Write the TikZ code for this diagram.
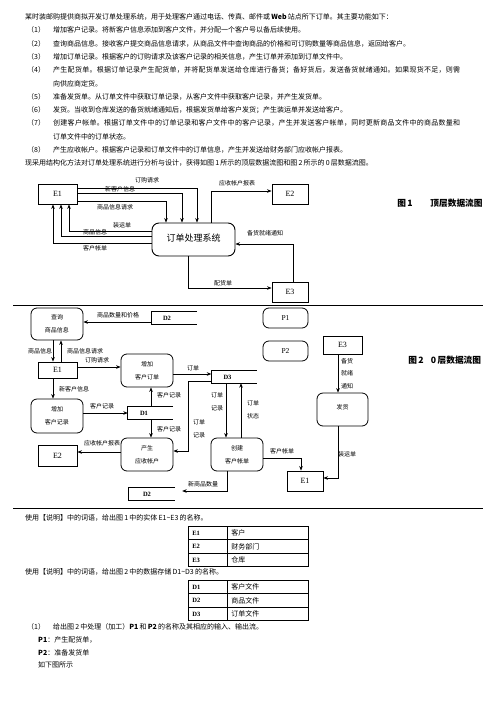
\documentclass[tikz,border=0pt]{standalone}
\usepackage{fontspec}
\IfFontExistsTF{FandolSong-Regular.otf}{%
  \setmainfont{FandolSong-Regular.otf}[BoldFont=FandolSong-Bold.otf]%
}{%
  \setmainfont{Noto Sans CJK SC}%
}
\newfontfamily\lat{Liberation Serif}
\usetikzlibrary{arrows.meta,calc}
\newcommand\openbox[1]{\draw[storeline] (#1.north east) -- (#1.north west) -- (#1.south west) -- (#1.south east);}
\tikzset{
  ent/.style={draw, line width=0.9pt, inner sep=0pt, font=\lat\fontsize{8}{9}\selectfont},
  proc/.style={draw, rounded corners=6pt, line width=0.8pt, inner sep=0pt, align=center, font=\fontsize{6}{13}\selectfont},
  store/.style={inner sep=0pt, minimum width=45pt, minimum height=12pt, font=\lat\bfseries\fontsize{6.5}{7}\selectfont},
  storeline/.style={line width=0.8pt},
  arr/.style={line width=0.7pt, -{Stealth[length=4.5pt,width=3.6pt]}},
  lbl/.style={inner sep=0pt, font=\fontsize{6}{13}\selectfont, align=center},
  lbl3/.style={inner sep=0pt, font=\fontsize{6}{12.5}\selectfont, align=center},
  txt/.style={inner sep=0pt, anchor=west, font=\fontsize{7}{8}\selectfont},
  wide/.style={font=\fontsize{7}{8}\selectfont\addfontfeatures{LetterSpace=3.9}},
  ttl/.style={inner sep=0pt, font=\bfseries\fontsize{8.7}{9}\selectfont},
  sep/.style={line width=0.9pt},
  cellL/.style={draw, line width=0.8pt, anchor=north west, inner xsep=4pt, inner ysep=0pt, text width=31pt, align=left, minimum height=13.4pt, font=\lat\bfseries\fontsize{6.5}{7}\selectfont},
  cellR/.style={draw, line width=0.8pt, anchor=north west, inner xsep=4pt, inner ysep=0pt, text width=73pt, align=left, minimum height=13.4pt, font=\fontsize{7}{8}\selectfont}
}
\begin{document}
\begin{tikzpicture}[x=1pt,y=-1pt]
\useasboundingbox (0,0) rectangle (496,702);
% ---------------- description text ----------------
\node[txt] (t0) at (25,17) {某时装邮购提供商拟开发订单处理系统，用于处理客户通过电话、传真、邮件或\,\textbf{Web}\,站点所下订单。其主要功能如下：};
\node[txt] (n1) at (27,30.3) {（1）};
\node[txt] (t1) at (53,30.3) {增加客户记录。将新客户信息添加到客户文件，并分配一个客户号以备后续使用。};
\node[txt] (n2) at (27,43.5) {（2）};
\node[txt] (t2) at (53,43.5) {查询商品信息。接收客户提交商品信息请求，从商品文件中查询商品的价格和可订购数量等商品信息，返回给客户。};
\node[txt] (n3) at (27,56.8) {（3）};
\node[txt] (t3) at (53,56.8) {增加订单记录。根据客户的订购请求及该客户记录的相关信息，产生订单并添加到订单文件中。};
\node[txt] (n4) at (27,70.1) {（4）};
\node[txt, wide] (t4) at (53,70.1) {产生配货单。根据订单记录产生配货单，并将配货单发送给仓库进行备货；备好货后，发送备货就绪通知。如果现货不足，则需};
\node[txt] (t4b) at (53,83.4) {向供应商定货。};
\node[txt] (n5) at (27,96.6) {（5）};
\node[txt] (t5) at (53,96.6) {准备发货单。从订单文件中获取订单记录，从客户文件中获取客户记录，并产生发货单。};
\node[txt] (n6) at (27,109.9) {（6）};
\node[txt] (t6) at (53,109.9) {发货。当收到仓库发送的备货就绪通知后，根据发货单给客户发货；产生装运单并发送给客户。};
\node[txt] (n7) at (27,123.2) {（7）};
\node[txt, wide] (t7) at (53,123.2) {创建客户帐单。根据订单文件中的订单记录和客户文件中的客户记录，产生并发送客户帐单，同时更新商品文件中的商品数量和};
\node[txt] (t7b) at (53,136.4) {订单文件中的订单状态。};
\node[txt] (n8) at (27,149.7) {（8）};
\node[txt] (t8) at (53,149.7) {产生应收帐户。根据客户记录和订单文件中的订单信息，产生并发送给财务部门应收帐户报表。};
\node[txt] (t9) at (25,163) {现采用结构化方法对订单处理系统进行分析与设计，获得如图\,1\,所示的顶层数据流图和图\,2\,所示的\,0\,层数据流图。};
% ---------------- Figure 1 ----------------
\node[ent, minimum width=39pt, minimum height=20pt] (E1) at (57.5,194) {E1};
\node[ent, minimum width=36pt, minimum height=20pt] (E2) at (290,194) {E2};
\node[ent, minimum width=36pt, minimum height=20pt] (E3) at (290,292) {E3};
\node[draw, rounded corners=7pt, line width=0.9pt, minimum width=83pt, minimum height=33pt, inner sep=0pt, font=\fontsize{9}{10}\selectfont] (sys) at (193.5,239.5) {\raisebox{4pt}{订单处理系统}};
\draw[arr] ($(E1.east)+(0,-6)$) -| ($(sys.north)+(3.5,0)$);
\draw[arr] ($(E1.east)+(0,-1)$) -| ($(sys.north)+(-11.5,0)$);
\draw[arr] ($(E1.east)+(0,7)$) -| ($(sys.north)+(-27.5,0)$);
\draw[arr] ($(sys.west)+(0,-8.5)$) -| ($(E1.south)+(11.5,0)$);
\draw[arr] ($(sys.west)+(0,-3.5)$) -| ($(E1.south)+(3.5,0)$);
\draw[arr] ($(sys.west)+(0,3.5)$) -| ($(E1.south)+(-4.5,0)$);
\draw[arr] ($(sys.north)+(17.5,0)$) |- ($(E2.west)+(0,-3)$);
\draw[arr] ($(E3.north)+(3,0)$) |- ($(sys.east)+(0,4.5)$);
\draw[arr] ($(sys.south)+(-5.5,0)$) |- ($(E3.west)+(0,-4)$);
\node[lbl] (l1) at (147,180) {订购请求};
\node[lbl] (l2) at (120,189.5) {新客户信息};
\node[lbl] (l3) at (115,207) {商品信息请求};
\node[lbl] (l4) at (122,225) {装运单};
\node[lbl] (l5) at (95,232.5) {商品信息};
\node[lbl] (l6) at (95,248) {客户帐单};
\node[lbl] (l7) at (237,183) {应收帐户报表};
\node[lbl] (l8) at (265,233) {备货就绪通知};
\node[lbl] (l9) at (223,283) {配货单};
\node[ttl] (f1a) at (405,203) {图\,1};
\node[ttl] (f1b) at (456.5,203) {顶层数据流图};
\draw[sep] (13,305) -- (483,305);
% ---------------- Figure 2 ----------------
\node[proc, minimum width=52pt, minimum height=32pt] (q) at (57,324) {查询\\商品信息};
\node[store] (D2a) at (174.5,318) {\makebox[45pt][l]{\hspace{11pt}D2}};
\openbox{D2a}
\node[ent, minimum width=39pt, minimum height=16pt] (E1b) at (57.5,370) {E1};
\node[proc, minimum width=52pt, minimum height=33pt] (aco) at (147,370.5) {增加\\客户订单};
\node[store] (D3) at (234,377) {\makebox[45pt][l]{\hspace{12pt}D3}};
\openbox{D3}
\node[store] (D1) at (150.5,413) {\makebox[45pt][l]{\hspace{12pt}D1}};
\openbox{D1}
\node[proc, minimum width=52pt, minimum height=34pt] (acr) at (57,416) {增加\\客户记录};
\node[proc, minimum width=52pt, minimum height=33pt] (gen) at (147,454.5) {产生\\应收帐户};
\node[ent, minimum width=39pt, minimum height=21pt] (E2b) at (57.5,455.5) {E2};
\node[store, minimum width=46pt] (D2b) at (152,494) {\makebox[46pt][l]{\hspace{14pt}D2}};
\openbox{D2b}
\node[proc, minimum width=52pt, minimum height=33pt] (cb) at (237,454.5) {创建\\客户帐单};
\node[ent, minimum width=36pt, minimum height=20pt] (E1c) at (305,481) {E1};
\node[proc, minimum width=51pt, minimum height=33pt] (ship) at (342.5,409.5) {\raisebox{5pt}{发货}};
\node[ent, minimum width=39pt, minimum height=18pt] (E3b) at (342.5,345) {E3};
\node[proc, minimum width=45pt, minimum height=20pt, font=\lat\fontsize{7.5}{8}\selectfont] (P1) at (285.5,318) {P1};
\node[proc, minimum width=45pt, minimum height=20pt, font=\lat\fontsize{7.5}{8}\selectfont] (P2) at (285.5,351) {P2};
\draw[arr] ($(D2a.west)+(0,4)$) -- ($(D2a.west -| q.east)+(0,4)$);
\draw[arr] ($(q.south)+(-4,0)$) -- ($(q.south |- E1b.north)+(-4,0)$);
\draw[arr] ($(q.south |- E1b.north)+(4,0)$) -- ($(q.south)+(4,0)$);
\draw[arr] ($(E1b.east)+(0,-3)$) -- ($(E1b.east -| aco.west)+(0,-3)$);
\draw[arr] ($(E1b.south)+(-4.5,0)$) -- ($(E1b.south |- acr.north)+(-4.5,0)$);
\draw[arr] ($(acr.east)+(0,-3)$) -- ($(acr.east -| D1.west)+(0,-3)$);
\draw[arr] ($(D1.north)+(0.5,0)$) -- ($(D1.north |- aco.south)+(0.5,0)$);
\draw[arr] ($(D1.south)+(0.5,0)$) -- ($(D1.south |- gen.north)+(0.5,0)$);
\draw[arr] ($(aco.east)+(0,3.5)$) -- ($(aco.east -| D3.west)+(0,3.5)$);
\draw[arr] ($(D3.west)+(0,4)$) -- ++(-23,0) |- ($(gen.east)+(0,-3.5)$);
\draw[arr] ($(D3.south)+(-8,0)$) -- ($(D3.south |- cb.north)+(-8,0)$);
\draw[arr] ($(D3.south |- cb.north)+(7,0)$) -- ($(D3.south)+(7,0)$);
\draw[arr] ($(cb.east)+(0,3.5)$) -| ($(E1c.north)+(-4,0)$);
\draw[arr] ($(cb.south)+(-10,0)$) |- ($(D2b.east)+(7,-3)$);
\draw[arr] ($(ship.south)+(-4.5,0)$) |- ($(E1c.east)+(0,-3)$);
\draw[arr] ($(E3b.south)+(-4.5,0)$) -- ($(E3b.south |- ship.north)+(-4.5,0)$);
\draw[arr] ($(gen.west)+(0,-2.5)$) -- ($(gen.west -| E2b.east)+(0,-2.5)$);
\node[lbl] (m1) at (118,315) {商品数量和价格};
\node[lbl] (m2) at (40,351) {商品信息};
\node[lbl] (m3) at (85,351) {商品信息请求};
\node[lbl] (m4) at (97,360) {订购请求};
\node[lbl] (m5) at (74,389) {新客户信息};
\node[lbl] (m6) at (102,406) {客户记录};
\node[lbl] (m7) at (169,395) {客户记录};
\node[lbl] (m8) at (169,429) {客户记录};
\node[lbl] (m9) at (193,368) {订单};
\node[lbl] (m10) at (199,428.5) {订单\\记录};
\node[lbl] (m11) at (217,401.5) {订单\\记录};
\node[lbl] (m12) at (253,409.5) {订单\\状态};
\node[lbl] (m13) at (282,451) {客户帐单};
\node[lbl] (m14) at (203,484) {新商品数量};
\node[lbl] (m15) at (347,454) {装运单};
\node[lbl3] (m16) at (347,373.5) {备货\\就绪\\通知};
\node[lbl] (m17) at (102,443) {应收帐户报表};
\node[ttl] (f2a) at (416,360) {图\,2};
\node[ttl] (f2b) at (456,360) {0\,层数据流图};
\draw[sep] (13,508) -- (483,508);
% ---------------- answers ----------------
\node[txt] (q1) at (25,518) {使用【说明】中的词语，给出图\,1\,中的实体\,E1\textasciitilde E3\,的名称。};
\node[cellL] (a11) at (188,526) {E1};
\node[cellR] (a12) at (227,526) {客户};
\node[cellL] (a21) at (188,539.4) {E2};
\node[cellR] (a22) at (227,539.4) {财务部门};
\node[cellL] (a31) at (188,552.8) {E3};
\node[cellR] (a32) at (227,552.8) {仓库};
\node[txt] (q2) at (25,572) {使用【说明】中的词语，给出图\,2\,中的数据存储\,D1\textasciitilde D3\,的名称。};
\node[cellL] (b11) at (188,580) {D1};
\node[cellR] (b12) at (227,580) {客户文件};
\node[cellL] (b21) at (188,593.4) {D2};
\node[cellR] (b22) at (227,593.4) {商品文件};
\node[cellL] (b31) at (188,606.8) {D3};
\node[cellR] (b32) at (227,606.8) {订单文件};
\node[txt] (q3n) at (27,627) {（1）};
\node[txt] (q3) at (53,627) {给出图\,2\,中处理（加工）\textbf{P1}\,和\,\textbf{P2}\,的名称及其相应的输入、输出流。};
\node[txt] (r1) at (38,639.5) {\textbf{P1}：产生配货单，};
\node[txt] (r2) at (38,652.5) {\textbf{P2}：准备发货单};
\node[txt] (r3) at (38,665) {如下图所示};
\end{tikzpicture}
\end{document}
